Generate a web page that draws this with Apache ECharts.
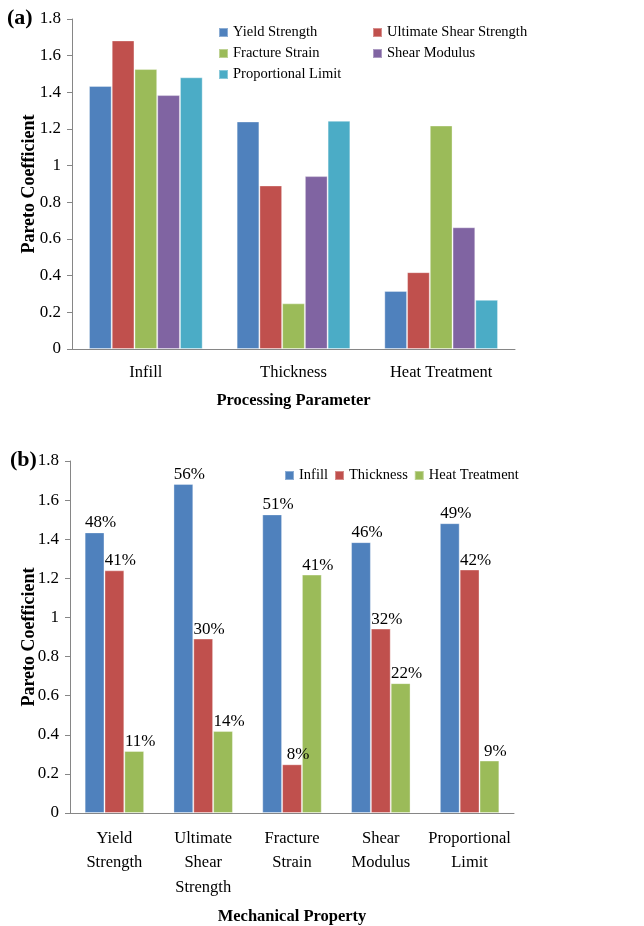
<!DOCTYPE html>
<html>
<head>
<meta charset="utf-8">
<script src="https://cdn.jsdelivr.net/npm/echarts@6/dist/echarts.min.js"></script>
<style>
  html, body { margin: 0; padding: 0; background: #fff; }
  #chart { width: 644px; height: 926px; }
</style>
</head>
<body>
<div id="chart"></div>
<script>
// Pareto coefficients of each mechanical property for each processing parameter
const processingParameters = ['Infill', 'Thickness', 'Heat Treatment'];
const mechanicalProperties = ['Yield Strength', 'Ultimate Shear Strength', 'Fracture Strain', 'Shear Modulus', 'Proportional Limit'];
const propertyAxisLabels = ['Yield\nStrength', 'Ultimate\nShear\nStrength', 'Fracture\nStrain', 'Shear\nModulus', 'Proportional\nLimit'];

// values ordered as [Infill, Thickness, Heat Treatment]
const yieldStrength = [1.435, 1.241, 0.317];
const ultimateShearStrength = [1.683, 0.892, 0.419];
const fractureStrain = [1.527, 0.249, 1.219];
const shearModulus = [1.385, 0.943, 0.664];
const proportionalLimit = [1.482, 1.245, 0.268];

// share of each parameter within a property (labels of panel b)
const infillShare = ['48%', '56%', '51%', '46%', '49%'];
const thicknessShare = ['41%', '30%', '8%', '32%', '42%'];
const heatTreatmentShare = ['11%', '14%', '41%', '22%', '9%'];

const yTicks = { min: 0, max: 1.8, interval: 0.2 };

const propertyColors = ['#4F81BD', '#C0504D', '#9BBB59', '#8064A2', '#4BACC6'];
const parameterColors = ['#4F81BD', '#C0504D', '#9BBB59'];

const byProperty = [yieldStrength, ultimateShearStrength, fractureStrain, shearModulus, proportionalLimit];
const shares = [infillShare, thicknessShare, heatTreatmentShare];

const FONT = '"Liberation Serif", "Times New Roman", serif';
const axisGray = '#868686';
const barEdge = 'rgba(255,255,255,0.35)';

function valueAxis(gridIndex, nameGap) {
  return {
    type: 'value', gridIndex,
    min: yTicks.min, max: yTicks.max, interval: yTicks.interval,
    name: 'Pareto Coefficient', nameLocation: 'middle', nameGap,
    nameMoveOverlap: false,
    nameTextStyle: { fontFamily: FONT, fontWeight: 'bold', fontSize: 18, color: '#000' },
    axisLine: { show: true, lineStyle: { color: axisGray, width: 1 } },
    axisTick: { show: true, length: 5, lineStyle: { color: axisGray } },
    splitLine: { show: false },
    axisLabel: { fontFamily: FONT, fontSize: 17, color: '#000', margin: 11 }
  };
}

const chart = echarts.init(document.getElementById('chart'));

const series = [];
// panel (a): one series per mechanical property
mechanicalProperties.forEach((name, i) => {
  series.push({
    name, type: 'bar', xAxisIndex: 0, yAxisIndex: 0,
    data: byProperty[i],
    barGap: '0%', barCategoryGap: '23%',
    itemStyle: { color: propertyColors[i], borderColor: barEdge, borderWidth: 1 },
    animation: false
  });
});
// panel (b): one series per processing parameter
processingParameters.forEach((name, j) => {
  series.push({
    name, type: 'bar', xAxisIndex: 1, yAxisIndex: 1,
    data: byProperty.map(vals => vals[j]),
    barGap: '0%', barCategoryGap: '33%',
    itemStyle: { color: parameterColors[j], borderColor: barEdge, borderWidth: 1 },
    label: {
      show: true, position: 'top', distance: 1, offset: [6, 0],
      fontFamily: FONT, fontSize: 17, color: '#000',
      formatter: p => shares[j][p.dataIndex]
    },
    animation: false
  });
});

const legendText = { fontFamily: FONT, fontSize: 14.5, color: '#000', lineHeight: 14 };

chart.setOption({
  backgroundColor: '#fff',
  animation: false,
  grid: [
    { left: 72, top: 19, width: 443, height: 330 },
    { left: 70, top: 461, width: 444, height: 353 }
  ],
  xAxis: [
    {
      type: 'category', gridIndex: 0, data: processingParameters,
      name: 'Processing Parameter', nameLocation: 'middle', nameGap: 43,
      nameTextStyle: { fontFamily: FONT, fontWeight: 'bold', fontSize: 16.5, color: '#000' },
      axisLine: { lineStyle: { color: axisGray } },
      axisTick: { length: 6, lineStyle: { color: axisGray } },
      axisLabel: { fontFamily: FONT, fontSize: 16.5, color: '#000', margin: 15, interval: 0 }
    },
    {
      type: 'category', gridIndex: 1, data: propertyAxisLabels,
      name: 'Mechanical Property', nameLocation: 'middle', nameGap: 95,
      nameTextStyle: { fontFamily: FONT, fontWeight: 'bold', fontSize: 16.5, color: '#000' },
      axisLine: { lineStyle: { color: axisGray } },
      axisTick: { length: 6, lineStyle: { color: axisGray } },
      axisLabel: { fontFamily: FONT, fontSize: 16.5, color: '#000', margin: 13, interval: 0, lineHeight: 24.5 }
    }
  ],
  yAxis: [valueAxis(0, 34), valueAxis(1, 32)],
  legend: [
    {
      left: 218, top: 25, padding: 0, orient: 'vertical', itemGap: 6,
      itemWidth: 9, itemHeight: 9, icon: 'rect',
      data: [mechanicalProperties[0], mechanicalProperties[2], mechanicalProperties[4]],
      textStyle: legendText, selectedMode: false
    },
    {
      left: 372, top: 25, padding: 0, orient: 'vertical', itemGap: 6,
      itemWidth: 9, itemHeight: 9, icon: 'rect',
      data: [mechanicalProperties[1], mechanicalProperties[3]],
      textStyle: legendText, selectedMode: false
    },
    {
      left: 284, top: 468, padding: 0, orient: 'horizontal', itemGap: 6,
      itemWidth: 9, itemHeight: 9, icon: 'rect',
      data: processingParameters,
      textStyle: legendText, selectedMode: false
    }
  ],
  graphic: [
    { type: 'text', left: 7, top: 7, style: { text: '(a)', font: 'bold 22px ' + FONT, fill: '#000' } },
    { type: 'text', left: 10, top: 449, style: { text: '(b)', font: 'bold 22px ' + FONT, fill: '#000' } }
  ],
  series
});
</script>
</body>
</html>
